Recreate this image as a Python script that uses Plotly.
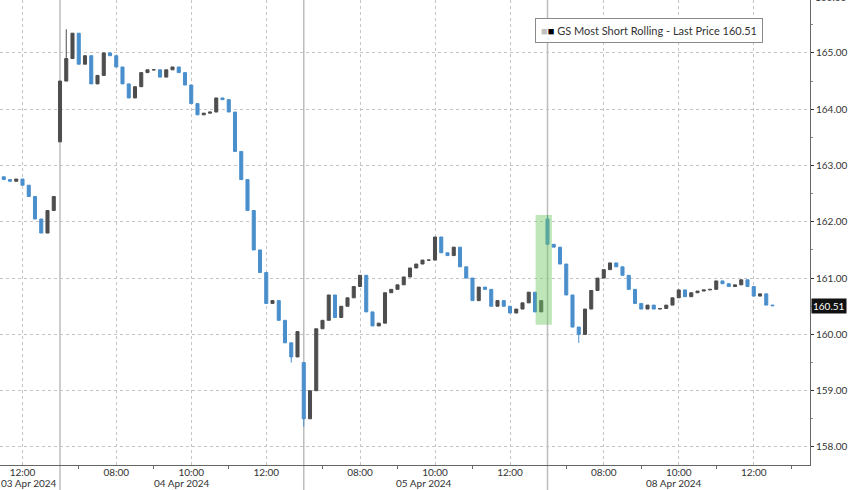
import pandas as pd
import plotly.graph_objects as go

# ---- data (10-minute bars) ----
day03_open = 162.80
day03_close = [162.75, 162.72, 162.76, 162.65, 162.45, 162.05, 161.80, 162.20, 162.45]

day04_open = 163.42
day04_close = [164.50, 164.90, 165.35, 164.80, 164.95, 164.45, 164.60, 165.00, 164.95, 164.75,
               164.45, 164.20, 164.40, 164.65, 164.70, 164.70, 164.57, 164.70, 164.75, 164.65,
               164.43, 164.10, 163.90, 163.93, 163.95, 164.20, 164.17, 163.95, 163.25, 162.75,
               162.20, 161.50, 161.10, 160.55, 160.60, 160.25, 159.85, 159.60, 160.05]

day05_open = 159.50
day05_close = [158.50, 159.00, 160.10, 160.25, 160.70, 160.30, 160.50, 160.65, 160.85, 161.05,
               160.40, 160.15, 160.20, 160.74, 160.80, 160.88, 161.02, 161.18, 161.25, 161.32,
               161.32, 161.73, 161.45, 161.40, 161.55, 161.20, 161.00, 160.60, 160.84, 160.80,
               160.50, 160.60, 160.50, 160.38, 160.45, 160.56, 160.75, 160.40, 160.60]

day08_open = 162.05
day08_close = [161.60, 161.55, 161.25, 160.70, 160.13, 160.00, 160.45, 160.78, 161.00, 161.15,
               161.27, 161.20, 161.05, 160.80, 160.55, 160.45, 160.52, 160.45, 160.46, 160.52,
               160.65, 160.79, 160.67, 160.74, 160.77, 160.79, 160.80, 160.95, 160.90, 160.85,
               160.88, 160.97, 160.85, 160.68, 160.72, 160.52, 160.51]

wick_times = ["2024-04-04 06:40", "2024-04-05 06:30", "2024-04-05 06:40",
              "2024-04-08 06:30", "2024-04-08 07:20", "2024-04-04 12:40"]
wick_values = [165.42, 158.36, 158.70, 162.12, 159.85, 159.50]

tick_times = ["2024-04-03 12:00", "2024-04-04 08:00", "2024-04-04 10:00", "2024-04-04 12:00",
              "2024-04-05 08:00", "2024-04-05 10:00", "2024-04-05 12:00",
              "2024-04-08 08:00", "2024-04-08 10:00", "2024-04-08 12:00"]
tick_labels = ["12:00", "08:00", "10:00", "12:00", "08:00", "10:00", "12:00", "08:00", "10:00", "12:00"]
minor_times = ["2024-04-04 07:00", "2024-04-04 09:00", "2024-04-04 11:00",
               "2024-04-05 07:00", "2024-04-05 09:00", "2024-04-05 11:00",
               "2024-04-08 07:00", "2024-04-08 09:00", "2024-04-08 11:00", "2024-04-08 13:00"]
date_labels = ["04 Apr 2024", "05 Apr 2024", "08 Apr 2024"]
date_label_pos = ["2024-04-04 09:45", "2024-04-05 09:42", "2024-04-08 09:52"]
day_starts = ["2024-04-04 06:30", "2024-04-05 06:30", "2024-04-08 06:30"]
y_ticks = [158, 159, 160, 161, 162, 163, 164, 165]
last_price = 160.51
legend_text = "GS Most Short Rolling - Last Price 160.51"

# ---- build OHLC ----
days = [("2024-04-03 11:30", day03_open, day03_close),
        ("2024-04-04 06:30", day04_open, day04_close),
        ("2024-04-05 06:30", day05_open, day05_close),
        ("2024-04-08 06:30", day08_open, day08_close)]
rows = []
for start, dopen, closes in days:
    times = pd.date_range(start, periods=len(closes), freq="10min")
    prev = dopen
    for t, c in zip(times, closes):
        rows.append(dict(t=t, o=prev, c=c, h=max(prev, c), l=min(prev, c)))
        prev = c
df = pd.DataFrame(rows).set_index("t")
for wt, wv in zip(wick_times, wick_values):
    ts = pd.Timestamp(wt)
    if ts in df.index:
        df.loc[ts, "h"] = max(df.loc[ts, "h"], wv)
        df.loc[ts, "l"] = min(df.loc[ts, "l"], wv)

BLUE = "#4a8fcc"
DARK = "#4d4d4d"
GRID = "#c4c4c4"
FONT = "Lato"
Y_RANGE = [157.68, 165.94]

fig = go.Figure(go.Candlestick(
    x=df.index, open=df["o"], high=df["h"], low=df["l"], close=df["c"],
    increasing=dict(line=dict(color=DARK, width=1), fillcolor=DARK),
    decreasing=dict(line=dict(color=BLUE, width=1), fillcolor=BLUE),
    whiskerwidth=0, showlegend=False, hoverinfo="skip",
))

HOUR = 3600 * 1000
fig.update_layout(
    width=848, height=490,
    margin=dict(l=0, r=38, t=0, b=25),
    paper_bgcolor="white", plot_bgcolor="white",
    font=dict(family=FONT, size=10, color="#333"),
    xaxis=dict(
        type="date", automargin=False,
        range=["2024-04-03 11:24", "2024-04-08 13:30"],
        rangebreaks=[dict(values=["2024-04-03 13:00", "2024-04-04 13:00"], dvalue=17.5 * HOUR),
                     dict(values=["2024-04-05 13:00"], dvalue=65.5 * HOUR)],
        rangeslider=dict(visible=False),
        tickmode="array", tickvals=tick_times, ticktext=tick_labels,
        showgrid=True, gridcolor=GRID, griddash="dot", gridwidth=1,
        showline=True, linecolor="#666", linewidth=1,
        ticks="", ticklabelstandoff=-2,
        minor=dict(tickmode="array", tickvals=minor_times, ticks="outside", ticklen=3,
                   tickcolor="#666", showgrid=False),
        tickfont=dict(size=10, color="#333"),
        zeroline=False,
    ),
    yaxis=dict(
        side="right", automargin=False,
        range=Y_RANGE,
        tickmode="array", tickvals=y_ticks, ticktext=[f"{v:.2f}" for v in y_ticks],
        showgrid=True, gridcolor=GRID, griddash="dot", gridwidth=1,
        showline=True, linecolor="#666", linewidth=1,
        ticks="outside", ticklen=3, tickcolor="#333",
        minor=dict(dtick=0.5, tick0=158, ticks="outside", ticklen=2, tickcolor="#888", showgrid=False),
        tickfont=dict(size=10, color="#333"),
        zeroline=False,
    ),
)

# day separators
for ds in day_starts:
    fig.add_shape(type="line", xref="x", yref="paper", x0=ds, x1=ds, y0=-0.06, y1=1,
                  line=dict(color="#bdbdbd", width=1.5), layer="below")

# highlight box
fig.add_shape(type="rect", xref="x", yref="y", x0="2024-04-05 12:41", x1="2024-04-08 06:37",
              y0=160.17, y1=162.12, fillcolor="rgba(110,200,100,0.45)", line=dict(width=0),
              layer="above")

# date labels
fig.add_annotation(xref="paper", yref="paper", x=0, y=0, xanchor="left", yanchor="top",
                   yshift=-11, text="03 Apr 2024", showarrow=False, font=dict(size=10, color="#333"),
                   borderpad=0)
for lab, pos in zip(date_labels, date_label_pos):
    fig.add_annotation(xref="x", yref="paper", x=pos, y=0, yanchor="top", yshift=-11,
                       text=lab, showarrow=False, font=dict(size=10, color="#333"), borderpad=0)

# top partial label (166.00 sits just above the plotted range)
fig.add_annotation(xref="paper", yref="paper", x=1, y=1 + (166 - Y_RANGE[1]) / (Y_RANGE[1] - Y_RANGE[0]),
                   xanchor="left", yanchor="middle", xshift=3,
                   text="166.00", showarrow=False, font=dict(size=10, color="#333"))

# last price tag
fig.add_annotation(xref="paper", yref="y", x=1, y=last_price, xanchor="left", xshift=1,
                   text=f"{last_price:.2f}", showarrow=False, bgcolor="#111",
                   font=dict(size=10, color="white"), borderpad=1)

# legend box
fig.add_annotation(xref="paper", yref="paper", x=535 / 810, y=(465 - 30.5) / 465,
                   xanchor="left", yanchor="middle",
                   text="<span style='color:#c0c0c0'>■</span><span style='color:#000'>■</span> " + legend_text,
                   showarrow=False, bgcolor="white", bordercolor="#8a8a8a", borderwidth=1,
                   borderpad=5, font=dict(size=11, color="#333"))

fig.write_html("out.html", config={"displayModeBar": False},
               post_script="document.body.style.margin='0';document.body.style.overflow='hidden';")
